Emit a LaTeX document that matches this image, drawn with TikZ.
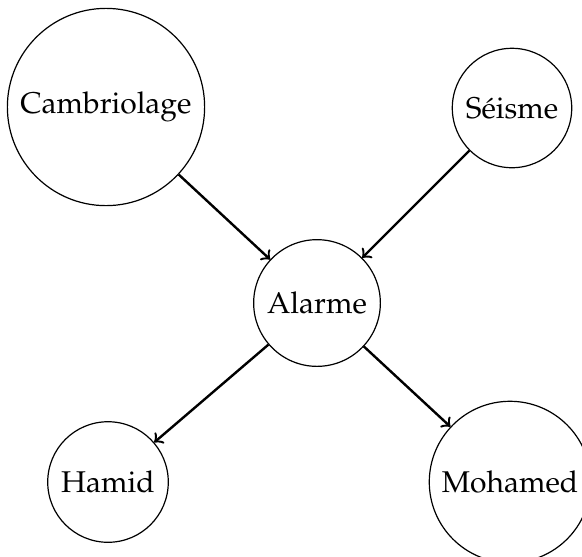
\documentclass[tikz,border=0pt]{standalone}
\usepackage[T1]{fontenc}
\usepackage{palatino}
\begin{document}
\begin{tikzpicture}[x=0.33333pt,y=-0.33333pt,
  state/.style={circle,draw},
  edge/.style={->,thick}]
\useasboundingbox (0,0) rectangle (582,556);
\node[state] (c) at (106,107) {Cambriolage};
\node[state] (s) at (512,108) {S\'eisme};
\node[state] (a) at (317,303) {Alarme};
\node[state] (h) at (108,482) {Hamid};
\node[state] (m) at (510,482) {Mohamed};
\draw[edge] (c) -- (a);
\draw[edge] (s) -- (a);
\draw[edge] (a) -- (h);
\draw[edge] (a) -- (m);
\end{tikzpicture}
\end{document}
